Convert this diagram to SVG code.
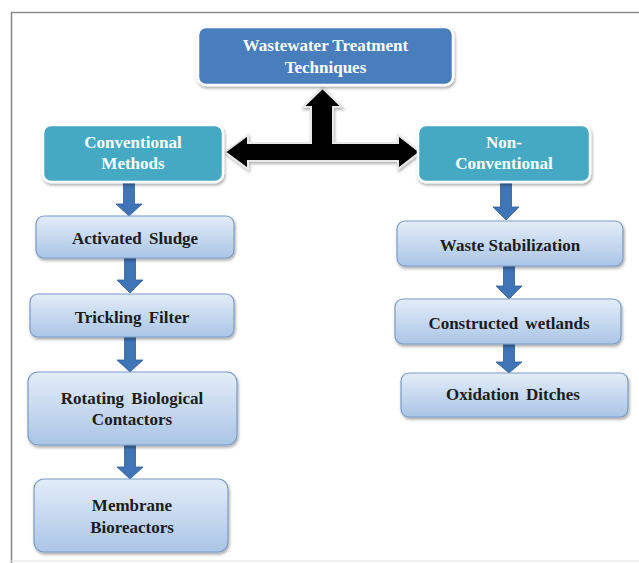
<svg xmlns="http://www.w3.org/2000/svg" width="639" height="563" viewBox="0 0 639 563">
<defs>
<linearGradient id="lg" x1="0" y1="0" x2="0" y2="1">
<stop offset="0" stop-color="#e3edf9"/>
<stop offset="1" stop-color="#aac5e6"/>
</linearGradient>
<filter id="sh" x="-10%" y="-20%" width="120%" height="150%">
<feDropShadow dx="1" dy="2" stdDeviation="1.8" flood-color="#000" flood-opacity="0.35"/>
</filter>
<filter id="sh2" x="-10%" y="-20%" width="120%" height="150%">
<feDropShadow dx="1" dy="2" stdDeviation="1.5" flood-color="#000" flood-opacity="0.3"/>
</filter>
</defs>
<style>
.light{fill:url(#lg);stroke:#7b9bc6;stroke-width:1.2;filter:url(#sh)}
.teal{fill:#45a9c3;stroke:#ffffff;stroke-width:2.5;filter:url(#sh)}
.top{fill:#4a7ebd;stroke:#ffffff;stroke-width:2.5;filter:url(#sh)}
.t{font-family:"Liberation Serif","Times New Roman",serif;font-weight:bold;font-size:17px;text-anchor:middle;fill:#1c1c1c}
.w{font-family:"Liberation Serif","Times New Roman",serif;font-weight:bold;font-size:17px;text-anchor:middle;fill:#ffffff}
.ba{fill:#3f74b6;stroke:#2f5e99;stroke-width:0.8}
.frame{stroke:#8a8a8a;stroke-width:1.6;fill:none}
</style>
<rect width="639" height="563" fill="#ffffff"/>
<g id="frame">
<line class="frame" x1="11" y1="12.5" x2="639" y2="12.5"/>
<line class="frame" x1="11.5" y1="12" x2="11.5" y2="563"/>
<line x1="11" y1="561" x2="639" y2="561" stroke="#e2e2e2" stroke-width="1"/>
</g>
<g id="connectors">
<polygon points="225,152 248,135 248,143 311,143 311,107 303,107 322.5,88 342,107 333,107 333,143 398,143 398,135 420,152 398,169 398,161 248,161 248,169" fill="#000000" stroke="#e8e8e8" stroke-width="2" filter="url(#sh2)"/>
<polygon class="ba" points="123.5,182 134.5,182 134.5,204 142,204 129,216 116,204 123.5,204"/>
<polygon class="ba" points="124.5,258 135.5,258 135.5,280 143,280 130,293 117,280 124.5,280"/>
<polygon class="ba" points="124.5,337 135.5,337 135.5,360 143,360 130,372 117,360 124.5,360"/>
<polygon class="ba" points="124.5,445 135.5,445 135.5,467 143,467 130,479 117,467 124.5,467"/>
<polygon class="ba" points="500.5,182 511.5,182 511.5,207 519,207 506,220 493,207 500.5,207"/>
<polygon class="ba" points="503.5,266 514.5,266 514.5,286 522,286 509,299 496,286 503.5,286"/>
<polygon class="ba" points="503.5,344 514.5,344 514.5,362 522,362 509,373 496,362 503.5,362"/>
</g>
<g id="n-top">
<rect class="top" x="198" y="27" width="255" height="58" rx="8"/>
<text class="w" x="325.5" y="51" font-size="18">Wastewater Treatment</text>
<text class="w" x="325.5" y="73" font-size="18">Techniques</text>
</g>
<g id="n-conv">
<rect class="teal" x="43" y="125" width="180" height="57" rx="8"/>
<text class="w" x="133" y="148">Conventional</text>
<text class="w" x="133" y="169">Methods</text>
</g>
<g id="n-nonconv">
<rect class="teal" x="418" y="125" width="172" height="57" rx="8"/>
<text class="w" x="504" y="148">Non-</text>
<text class="w" x="504" y="169">Conventional</text>
</g>
<g id="n-activated">
<rect class="light" x="36" y="216" width="198" height="42" rx="8"/>
<text class="t" x="135" y="244" word-spacing="3">Activated Sludge</text>
</g>
<g id="n-trickling">
<rect class="light" x="30" y="294" width="204" height="43" rx="8"/>
<text class="t" x="132" y="323" word-spacing="3">Trickling Filter</text>
</g>
<g id="n-rotating">
<rect class="light" x="28" y="372" width="209" height="73" rx="10"/>
<text class="t" x="132" y="404" word-spacing="3">Rotating Biological</text>
<text class="t" x="132" y="425">Contactors</text>
</g>
<g id="n-membrane">
<rect class="light" x="34" y="479" width="194" height="73" rx="10"/>
<text class="t" x="132" y="511">Membrane</text>
<text class="t" x="132" y="533">Bioreactors</text>
</g>
<g id="n-waste">
<rect class="light" x="397" y="221" width="226" height="45" rx="8"/>
<text class="t" x="510" y="251">Waste Stabilization</text>
</g>
<g id="n-wetlands">
<rect class="light" x="395" y="299" width="226" height="45" rx="8"/>
<text class="t" x="509" y="329" word-spacing="3">Constructed wetlands</text>
</g>
<g id="n-oxidation">
<rect class="light" x="401" y="373" width="227" height="44" rx="8"/>
<text class="t" x="513" y="400" word-spacing="3">Oxidation Ditches</text>
</g>
</svg>
